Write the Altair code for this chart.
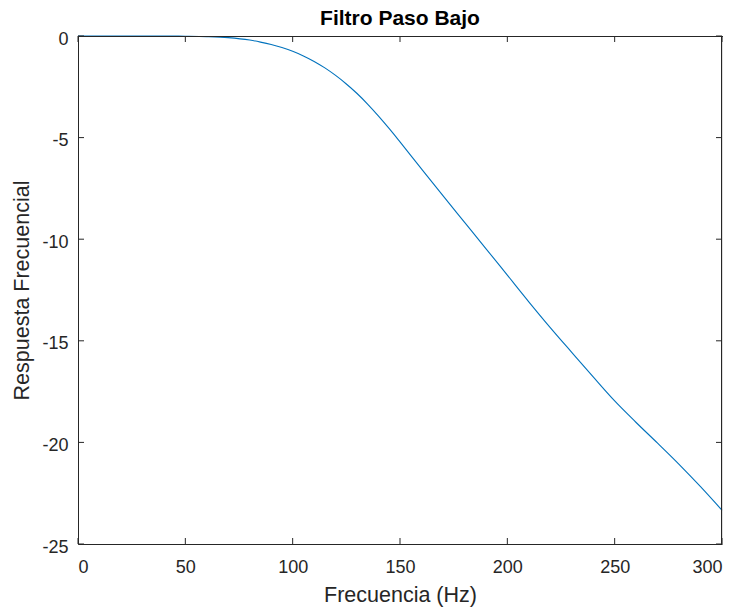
import altair as alt
import pandas as pd

freq = [0, 10, 20, 30, 40, 50, 60, 70, 80, 85, 90, 95, 100, 105, 110, 115, 120, 125,
        130, 135, 140, 145, 150, 160, 170, 180, 190, 200, 210, 220, 230, 240, 250,
        260, 270, 280, 290, 300]
resp = [0, 0, 0, 0, 0, -0.01, -0.03, -0.08, -0.2, -0.3, -0.42, -0.57, -0.75, -0.98,
        -1.25, -1.57, -1.94, -2.36, -2.83, -3.36, -3.94, -4.56, -5.21, -6.54, -7.86,
        -9.16, -10.46, -11.77, -13.08, -14.35, -15.57, -16.78, -17.96, -19.02, -20.04,
        -21.08, -22.18, -23.34]

x_ticks = [0, 50, 100, 150, 200, 250, 300]
y_ticks = [-25, -20, -15, -10, -5, 0]

W, H = 644, 508
FONT = "Liberation Sans"
AX = "#262626"

df = pd.DataFrame({"f": freq, "db": resp})
xt = pd.DataFrame({"v": x_ticks})
yt = pd.DataFrame({"v": y_ticks})

xscale = alt.Scale(domain=[0, 300], nice=False, zero=False)
yscale = alt.Scale(domain=[-25, 0], nice=False, zero=False)

x_axis = alt.Axis(values=x_ticks, ticks=False, grid=False, domainColor=AX,
                  labelFontSize=18, labelFont=FONT, labelColor=AX, labelPadding=14,
                  labelBaseline="top", labelExpr="'' + datum.value",
                  title="Frecuencia (Hz)", titleFont=FONT, titleFontSize=21.5,
                  titleFontWeight="normal", titleColor=AX,
                  titleBaseline="alphabetic", titleX=W / 2, titleY=57)
y_axis = alt.Axis(values=y_ticks, ticks=False, grid=False, domainColor=AX,
                  labelFontSize=18, labelFont=FONT, labelColor=AX, labelPadding=10,
                  labelBaseline="middle", labelOffset=3, labelExpr="'' + datum.value",
                  title="Respuesta Frecuencial", titleFont=FONT, titleFontSize=21.5,
                  titleFontWeight="normal", titleColor=AX,
                  titleBaseline="alphabetic", titleX=-50, titleY=H / 2)

line = alt.Chart(df).mark_line(color="#0072BD", strokeWidth=1.1,
                               interpolate="monotone").encode(
    x=alt.X("f:Q", scale=xscale, axis=x_axis),
    y=alt.Y("db:Q", scale=yscale, axis=y_axis),
)

tick_style = dict(color=AX, strokeWidth=1)
bottom_ticks = alt.Chart(xt).mark_rule(**tick_style).encode(
    x=alt.X("v:Q", scale=xscale), y=alt.value(H), y2=alt.value(H - 6))
top_ticks = alt.Chart(xt).mark_rule(**tick_style).encode(
    x=alt.X("v:Q", scale=xscale), y=alt.value(0), y2=alt.value(6))
left_ticks = alt.Chart(yt).mark_rule(**tick_style).encode(
    y=alt.Y("v:Q", scale=yscale), x=alt.value(0), x2=alt.value(6))
right_ticks = alt.Chart(yt).mark_rule(**tick_style).encode(
    y=alt.Y("v:Q", scale=yscale), x=alt.value(W), x2=alt.value(W - 6))

# crisp top and right frame edges
top_edge = alt.Chart(xt).mark_rule(**tick_style).encode(
    x=alt.value(0), x2=alt.value(W + 0.5), y=alt.value(0.5))
right_edge = alt.Chart(xt).mark_rule(**tick_style).encode(
    x=alt.value(W - 0.5), y=alt.value(0), y2=alt.value(H))

chart = alt.layer(line, bottom_ticks, top_ticks, left_ticks, right_ticks,
                  top_edge, right_edge).properties(
    width=W, height=H,
    title=alt.TitleParams("Filtro Paso Bajo", font=FONT, fontSize=21, fontWeight="bold",
                          color="#000000", anchor="middle", baseline="alphabetic",
                          offset=2, dy=18),
    autosize=alt.AutoSizeParams(type="none"),
    padding={"left": 78, "top": 36, "right": 18, "bottom": 63},
).configure_view(stroke=None).configure(background="white")

chart.save("out.html", embed_options={"renderer": "svg", "actions": False})
